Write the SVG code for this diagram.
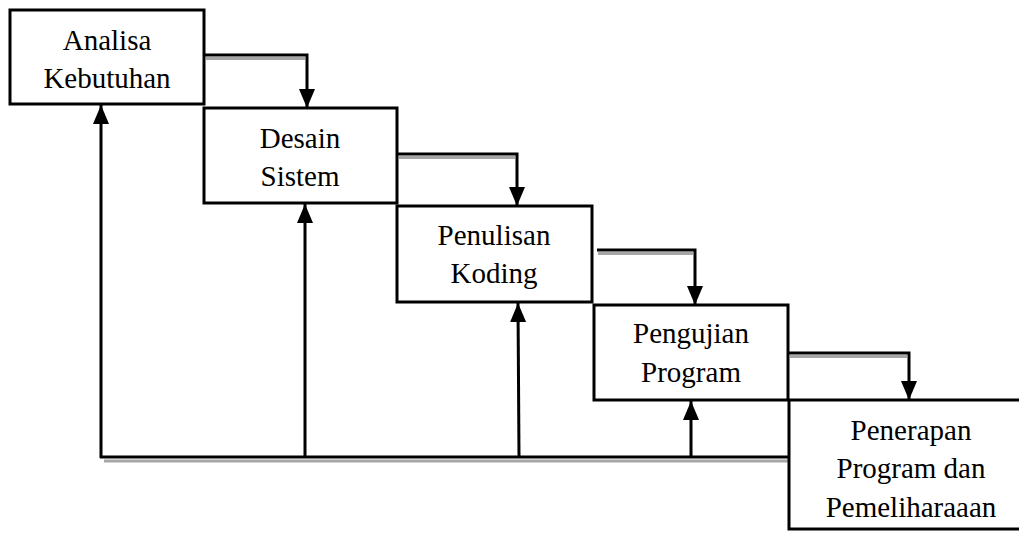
<svg xmlns="http://www.w3.org/2000/svg" width="1019" height="533" viewBox="0 0 1019 533">
  <style>
    .box { fill: #fff; stroke: #000; stroke-width: 3; }
    .lbl { font-family: "Liberation Serif", "Times New Roman", serif; font-size: 29px; fill: #000; text-anchor: middle; }
    .wire { fill: none; stroke: #000; stroke-width: 3; }
    .shade { fill: none; stroke: #a6a6a6; stroke-width: 3; }
  </style>
  <defs>
    <marker id="head" markerUnits="userSpaceOnUse" markerWidth="21" markerHeight="19" refX="19" refY="8.5" orient="auto">
      <path d="M0,0.5 L19,8.5 L0,16.5 Z" fill="#000"/>
    </marker>
  </defs>

  <rect width="1019" height="533" fill="#fff"/>

  <!-- connectors -->
  <g id="connectors">
    <!-- soft shadows under the stepping lines -->
    <line class="shade" x1="206" y1="58.5" x2="305" y2="58.5"/>
    <line class="shade" x1="399" y1="157.5" x2="515" y2="157.5"/>
    <line class="shade" x1="598" y1="253.5" x2="693" y2="253.5"/>
    <line class="shade" x1="790" y1="356.5" x2="907" y2="356.5"/>
    <line class="shade" x1="104" y1="461" x2="788" y2="461"/>

    <!-- forward steps -->
    <polyline class="wire" points="204,55 307,55 307,108" marker-end="url(#head)"/>
    <polyline class="wire" points="397,154 517,154 517,206" marker-end="url(#head)"/>
    <polyline class="wire" points="597,250 695,250 695,305" marker-end="url(#head)"/>
    <polyline class="wire" points="788,353 909,353 909,400" marker-end="url(#head)"/>

    <!-- feedback base line -->
    <line class="wire" x1="100" y1="457" x2="789" y2="457"/>
    <!-- feedback risers -->
    <line class="wire" x1="101" y1="458" x2="101" y2="105" marker-end="url(#head)"/>
    <line class="wire" x1="305" y1="457" x2="305" y2="204" marker-end="url(#head)"/>
    <line class="wire" x1="519" y1="457" x2="518" y2="303" marker-end="url(#head)"/>
    <line class="wire" x1="691" y1="457" x2="691" y2="401" marker-end="url(#head)"/>
  </g>

  <g id="analisa">
    <rect class="box" x="10" y="10" width="194" height="94"/>
    <text class="lbl" x="107" y="50">Analisa</text>
    <text class="lbl" x="107" y="88">Kebutuhan</text>
  </g>

  <g id="desain">
    <rect class="box" x="204" y="108" width="193" height="95"/>
    <text class="lbl" x="300" y="148">Desain</text>
    <text class="lbl" x="300" y="186">Sistem</text>
  </g>

  <g id="penulisan">
    <rect class="box" x="397" y="206" width="195" height="96"/>
    <text class="lbl" x="494" y="245">Penulisan</text>
    <text class="lbl" x="494" y="283">Koding</text>
  </g>

  <g id="pengujian">
    <rect class="box" x="594" y="305" width="194" height="95"/>
    <text class="lbl" x="691" y="343">Pengujian</text>
    <text class="lbl" x="691" y="382">Program</text>
  </g>

  <g id="penerapan">
    <rect class="box" x="789" y="400" width="240" height="129"/>
    <text class="lbl" x="911" y="440">Penerapan</text>
    <text class="lbl" x="911" y="478">Program dan</text>
    <text class="lbl" x="911" y="517">Pemeliharaaan</text>
  </g>
</svg>
